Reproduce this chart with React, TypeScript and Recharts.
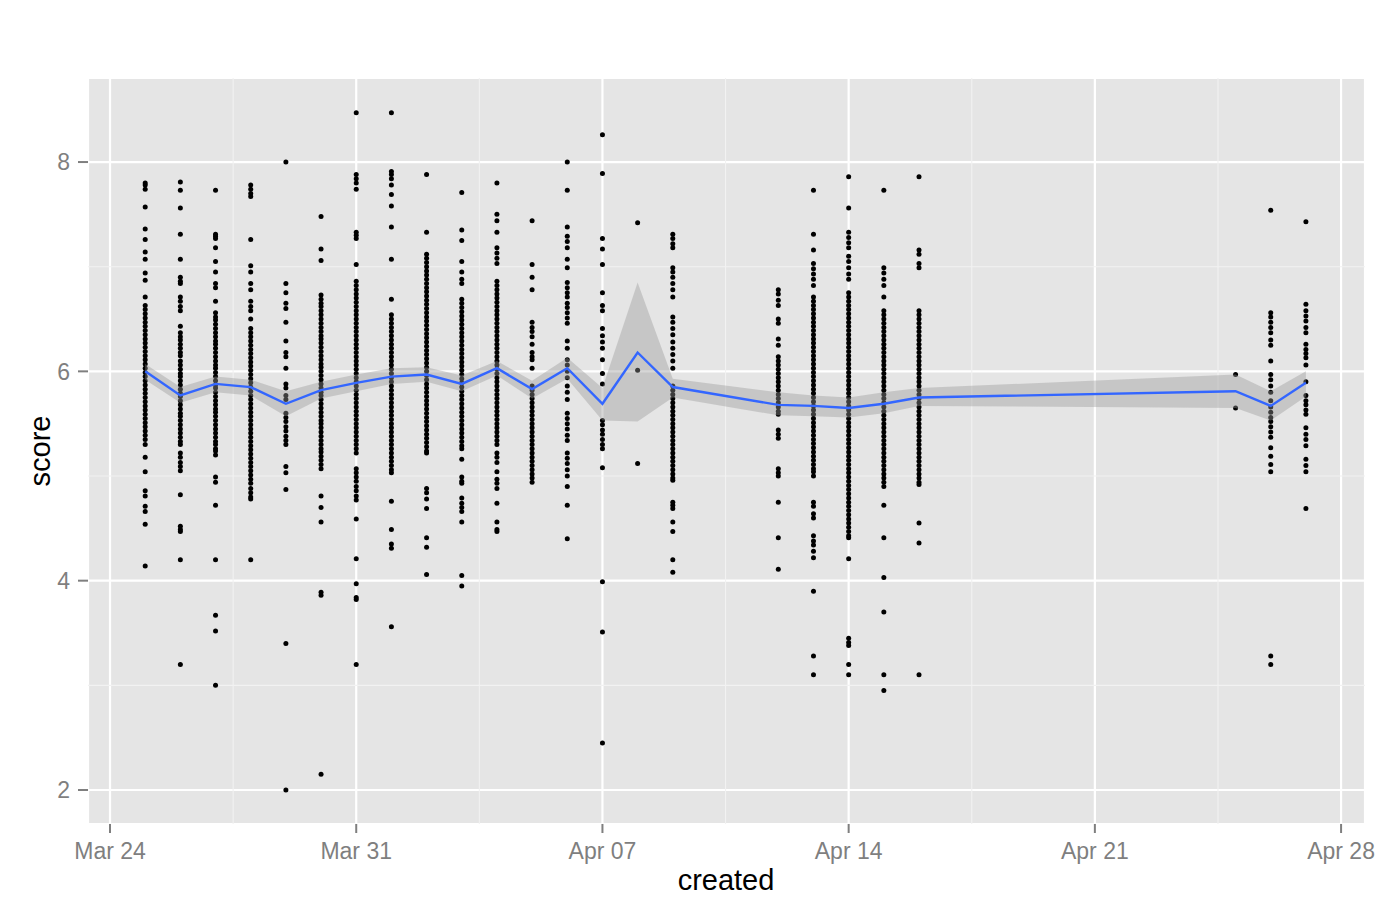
import React from "react";
import {
  ComposedChart,
  Scatter,
  Area,
  Line,
  XAxis,
  YAxis,
  CartesianGrid,
  ReferenceLine,
  Label,
} from "recharts";

// days counted from Mar 24
const days = [1, 2, 3, 4, 5, 6, 7, 8, 9, 10, 11, 12, 13, 14, 15, 16, 19, 20, 21, 22, 23, 32, 33, 34];

const scores: number[][] = [
  [7.8, 7.78, 7.74, 7.57, 7.36, 7.26, 7.14, 7.07, 6.94, 6.87, 6.71, 6.63, 6.59, 6.55, 6.51, 6.47, 6.43, 6.39, 6.35, 6.31, 6.27, 6.23, 6.19, 6.15, 6.11, 6.07, 6.03, 5.99, 5.95, 5.91, 5.87, 5.83, 5.79, 5.75, 5.71, 5.67, 5.63, 5.59, 5.55, 5.51, 5.47, 5.43, 5.39, 5.35, 5.3, 5.18, 5.04, 4.86, 4.81, 4.71, 4.66, 4.54, 4.14],
  [7.81, 7.73, 7.56, 7.31, 7.07, 6.9, 6.86, 6.84, 6.71, 6.67, 6.62, 6.58, 6.43, 6.37, 6.33, 6.3, 6.26, 6.22, 6.18, 6.15, 6.1, 6.06, 6.02, 5.98, 5.95, 5.91, 5.87, 5.83, 5.79, 5.76, 5.72, 5.68, 5.64, 5.6, 5.57, 5.53, 5.49, 5.45, 5.41, 5.37, 5.33, 5.3, 5.22, 5.18, 5.13, 5.09, 5.05, 4.82, 4.52, 4.49, 4.47, 4.2, 3.2],
  [7.73, 7.31, 7.29, 7.27, 7.18, 7.05, 6.95, 6.84, 6.8, 6.67, 6.56, 6.52, 6.49, 6.45, 6.41, 6.37, 6.33, 6.29, 6.26, 6.22, 6.18, 6.14, 6.1, 6.06, 6.03, 5.99, 5.95, 5.91, 5.87, 5.84, 5.8, 5.76, 5.72, 5.68, 5.64, 5.61, 5.57, 5.53, 5.49, 5.45, 5.41, 5.37, 5.33, 5.3, 5.26, 5.24, 5.2, 4.99, 4.94, 4.72, 4.2, 3.67, 3.52, 3.0],
  [7.78, 7.74, 7.7, 7.67, 7.26, 7.01, 6.95, 6.84, 6.78, 6.67, 6.62, 6.58, 6.5, 6.41, 6.37, 6.33, 6.29, 6.25, 6.21, 6.17, 6.13, 6.09, 6.05, 6.01, 5.97, 5.93, 5.89, 5.85, 5.81, 5.77, 5.73, 5.69, 5.65, 5.61, 5.57, 5.53, 5.49, 5.45, 5.41, 5.37, 5.33, 5.29, 5.25, 5.21, 5.17, 5.13, 5.09, 5.05, 5.01, 4.97, 4.93, 4.88, 4.84, 4.8, 4.78, 4.2],
  [8.0, 6.84, 6.75, 6.65, 6.6, 6.47, 6.29, 6.18, 6.14, 6.03, 5.88, 5.84, 5.77, 5.73, 5.6, 5.56, 5.52, 5.47, 5.43, 5.38, 5.34, 5.3, 5.09, 5.03, 4.87, 3.4, 2.0],
  [7.48, 7.17, 7.06, 6.73, 6.69, 6.65, 6.62, 6.58, 6.54, 6.5, 6.46, 6.42, 6.38, 6.34, 6.31, 6.27, 6.23, 6.19, 6.15, 6.11, 6.07, 6.04, 6.0, 5.96, 5.92, 5.88, 5.84, 5.8, 5.77, 5.73, 5.69, 5.65, 5.61, 5.57, 5.53, 5.5, 5.46, 5.42, 5.38, 5.34, 5.3, 5.26, 5.23, 5.19, 5.15, 5.11, 5.07, 4.81, 4.7, 4.56, 3.89, 3.86, 2.15],
  [8.47, 7.88, 7.84, 7.8, 7.74, 7.33, 7.3, 7.27, 7.02, 6.86, 6.82, 6.78, 6.74, 6.7, 6.66, 6.62, 6.58, 6.54, 6.5, 6.46, 6.42, 6.38, 6.34, 6.3, 6.26, 6.22, 6.18, 6.14, 6.1, 6.06, 6.02, 5.98, 5.94, 5.9, 5.86, 5.82, 5.78, 5.74, 5.7, 5.66, 5.62, 5.58, 5.54, 5.5, 5.46, 5.42, 5.38, 5.34, 5.3, 5.26, 5.22, 5.07, 5.03, 4.99, 4.95, 4.9, 4.86, 4.81, 4.77, 4.59, 4.21, 3.97, 3.84, 3.82, 3.2],
  [8.47, 7.91, 7.88, 7.84, 7.78, 7.69, 7.58, 7.38, 7.07, 6.69, 6.54, 6.5, 6.46, 6.42, 6.38, 6.34, 6.3, 6.26, 6.22, 6.18, 6.14, 6.1, 6.06, 6.02, 5.98, 5.94, 5.9, 5.86, 5.82, 5.78, 5.74, 5.7, 5.66, 5.62, 5.58, 5.54, 5.5, 5.46, 5.42, 5.38, 5.34, 5.3, 5.26, 5.22, 5.18, 5.14, 5.1, 5.06, 5.03, 4.76, 4.49, 4.35, 4.31, 3.56],
  [7.88, 7.33, 7.12, 7.08, 7.04, 7.0, 6.96, 6.92, 6.88, 6.84, 6.8, 6.76, 6.72, 6.68, 6.64, 6.6, 6.56, 6.52, 6.48, 6.44, 6.4, 6.36, 6.32, 6.28, 6.24, 6.2, 6.16, 6.12, 6.08, 6.04, 6.0, 5.96, 5.92, 5.88, 5.84, 5.8, 5.76, 5.72, 5.68, 5.64, 5.6, 5.56, 5.52, 5.48, 5.44, 5.4, 5.36, 5.32, 5.28, 5.24, 5.22, 4.88, 4.84, 4.78, 4.69, 4.41, 4.32, 4.06],
  [7.71, 7.35, 7.25, 7.05, 6.95, 6.88, 6.84, 6.69, 6.65, 6.61, 6.57, 6.53, 6.49, 6.45, 6.41, 6.37, 6.33, 6.29, 6.25, 6.21, 6.17, 6.13, 6.09, 6.05, 6.01, 5.97, 5.93, 5.89, 5.85, 5.81, 5.77, 5.73, 5.69, 5.65, 5.61, 5.57, 5.53, 5.49, 5.45, 5.41, 5.37, 5.33, 5.29, 5.26, 5.16, 4.99, 4.95, 4.93, 4.79, 4.74, 4.7, 4.66, 4.56, 4.05, 3.95],
  [7.8, 7.5, 7.44, 7.33, 7.18, 7.13, 7.08, 7.03, 6.86, 6.82, 6.78, 6.74, 6.7, 6.66, 6.62, 6.58, 6.54, 6.5, 6.46, 6.42, 6.38, 6.34, 6.3, 6.26, 6.22, 6.18, 6.14, 6.1, 6.06, 6.02, 5.98, 5.94, 5.9, 5.86, 5.82, 5.78, 5.74, 5.7, 5.66, 5.62, 5.58, 5.54, 5.5, 5.46, 5.42, 5.38, 5.34, 5.3, 5.22, 5.18, 5.13, 5.04, 4.97, 4.93, 4.88, 4.74, 4.56, 4.49, 4.47],
  [7.44, 7.02, 6.9, 6.78, 6.47, 6.42, 6.38, 6.33, 6.26, 6.18, 6.14, 6.11, 6.03, 5.86, 5.82, 5.78, 5.74, 5.7, 5.66, 5.62, 5.58, 5.54, 5.5, 5.46, 5.42, 5.38, 5.34, 5.3, 5.26, 5.22, 5.18, 5.14, 5.1, 5.06, 5.02, 4.98, 4.94],
  [8.0, 7.73, 7.38, 7.29, 7.24, 7.18, 7.07, 6.99, 6.85, 6.8, 6.75, 6.71, 6.65, 6.61, 6.56, 6.51, 6.46, 6.29, 6.22, 6.11, 6.06, 6.0, 5.94, 5.86, 5.8, 5.73, 5.6, 5.55, 5.5, 5.45, 5.39, 5.34, 5.22, 5.17, 5.12, 5.06, 5.0, 4.9, 4.72, 4.4],
  [8.26, 7.89, 7.27, 7.17, 7.02, 6.75, 6.63, 6.58, 6.41, 6.34, 6.28, 6.22, 6.11, 5.98, 5.88, 5.53, 5.49, 5.44, 5.4, 5.35, 5.3, 5.26, 5.08, 3.99, 3.51, 2.45],
  [7.42, 6.01, 5.12],
  [7.31, 7.27, 7.22, 7.18, 6.99, 6.95, 6.9, 6.84, 6.78, 6.71, 6.52, 6.47, 6.41, 6.35, 6.28, 6.22, 6.16, 6.1, 6.03, 5.86, 5.82, 5.78, 5.74, 5.7, 5.66, 5.62, 5.58, 5.54, 5.5, 5.46, 5.42, 5.38, 5.34, 5.3, 5.26, 5.22, 5.18, 5.14, 5.1, 5.06, 5.02, 4.98, 4.96, 4.75, 4.72, 4.69, 4.56, 4.47, 4.2, 4.08],
  [6.78, 6.74, 6.68, 6.63, 6.5, 6.46, 6.31, 6.25, 6.14, 6.1, 6.06, 6.02, 5.98, 5.94, 5.9, 5.86, 5.82, 5.78, 5.74, 5.7, 5.66, 5.62, 5.59, 5.44, 5.4, 5.36, 5.07, 5.03, 5.0, 4.75, 4.41, 4.11],
  [7.73, 7.31, 7.16, 7.03, 6.98, 6.93, 6.88, 6.82, 6.71, 6.67, 6.63, 6.59, 6.55, 6.51, 6.47, 6.43, 6.39, 6.35, 6.31, 6.27, 6.23, 6.19, 6.15, 6.11, 6.07, 6.03, 5.99, 5.95, 5.91, 5.87, 5.83, 5.79, 5.75, 5.71, 5.67, 5.63, 5.59, 5.55, 5.51, 5.47, 5.43, 5.39, 5.35, 5.31, 5.27, 5.23, 5.19, 5.15, 5.11, 5.07, 5.04, 5.0, 4.75, 4.71, 4.64, 4.6, 4.43, 4.38, 4.34, 4.28, 4.22, 3.9, 3.28, 3.1],
  [7.86, 7.56, 7.33, 7.28, 7.23, 7.18, 7.1, 7.05, 6.99, 6.93, 6.88, 6.75, 6.71, 6.67, 6.63, 6.59, 6.55, 6.51, 6.47, 6.43, 6.39, 6.35, 6.31, 6.27, 6.23, 6.19, 6.15, 6.11, 6.07, 6.03, 5.99, 5.95, 5.91, 5.87, 5.83, 5.79, 5.75, 5.71, 5.67, 5.63, 5.59, 5.55, 5.51, 5.47, 5.43, 5.39, 5.35, 5.31, 5.27, 5.23, 5.19, 5.15, 5.11, 5.07, 5.03, 4.99, 4.95, 4.91, 4.87, 4.83, 4.79, 4.75, 4.71, 4.67, 4.63, 4.59, 4.55, 4.51, 4.47, 4.43, 4.41, 4.21, 3.45, 3.41, 3.38, 3.2, 3.1],
  [7.73, 6.99, 6.94, 6.88, 6.82, 6.71, 6.58, 6.54, 6.5, 6.46, 6.42, 6.38, 6.34, 6.3, 6.26, 6.22, 6.18, 6.14, 6.1, 6.06, 6.02, 5.98, 5.94, 5.9, 5.86, 5.82, 5.78, 5.74, 5.7, 5.66, 5.62, 5.58, 5.54, 5.5, 5.46, 5.42, 5.38, 5.34, 5.3, 5.26, 5.22, 5.18, 5.14, 5.1, 5.06, 5.02, 4.98, 4.94, 4.9, 4.72, 4.41, 4.03, 3.7, 3.1, 2.95],
  [7.86, 7.16, 7.12, 7.03, 6.99, 6.58, 6.54, 6.5, 6.46, 6.42, 6.38, 6.34, 6.3, 6.26, 6.22, 6.18, 6.14, 6.1, 6.06, 6.02, 5.98, 5.94, 5.9, 5.86, 5.82, 5.78, 5.74, 5.7, 5.66, 5.62, 5.58, 5.54, 5.5, 5.46, 5.42, 5.38, 5.34, 5.3, 5.26, 5.22, 5.18, 5.14, 5.1, 5.06, 5.02, 4.98, 4.94, 4.92, 4.55, 4.36, 3.1],
  [5.97, 5.65],
  [7.54, 6.56, 6.52, 6.47, 6.42, 6.37, 6.3, 6.25, 6.1, 5.97, 5.92, 5.86, 5.8, 5.72, 5.66, 5.61, 5.56, 5.52, 5.47, 5.42, 5.37, 5.27, 5.19, 5.11, 5.04, 3.28, 3.2],
  [7.43, 6.64, 6.58, 6.53, 6.48, 6.42, 6.37, 6.26, 6.21, 6.17, 6.13, 6.06, 5.9, 5.77, 5.72, 5.68, 5.63, 5.59, 5.46, 5.4, 5.35, 5.29, 5.16, 5.1, 5.04, 4.69],
];

const means = [6.0, 5.77, 5.88, 5.85, 5.69, 5.82, 5.89, 5.95, 5.97, 5.88, 6.03, 5.83, 6.03, 5.69, 6.18, 5.85, 5.68, 5.67, 5.65, 5.69, 5.75, 5.81, 5.67, 5.89];
const bandLow = [5.92, 5.7, 5.8, 5.77, 5.57, 5.74, 5.81, 5.88, 5.9, 5.81, 5.96, 5.74, 5.93, 5.53, 5.52, 5.75, 5.58, 5.57, 5.56, 5.6, 5.67, 5.65, 5.53, 5.76];
const bandHigh = [6.07, 5.85, 5.95, 5.92, 5.81, 5.9, 5.97, 6.03, 6.04, 5.96, 6.1, 5.91, 6.13, 5.84, 6.85, 5.93, 5.8, 5.77, 5.75, 5.8, 5.84, 5.97, 5.81, 6.0];

const xTicks = [0, 7, 14, 21, 28, 35];
const xTickLabels = ["Mar 24", "Mar 31", "Apr 07", "Apr 14", "Apr 21", "Apr 28"];
const xMinor = [3.5, 10.5, 17.5, 24.5, 31.5];
const yTicks = [2, 4, 6, 8];
const yMinor = [3, 5, 7];

const pointRows = days.flatMap((d, i) => scores[i].map((s) => ({ day: d, score: s })));
const summaryRows = days.map((d, i) => ({ day: d, mean: means[i], band: [bandLow[i], bandHigh[i]] }));

const FONT = "'Liberation Sans', Arial, Helvetica, sans-serif";
const tickStyle = { fill: "#7F7F7F", fontSize: 23, fontFamily: FONT };

const Dot = (p: any) => <circle cx={p.cx} cy={p.cy} r={2.5} fill="#000000" />;

export default function App() {
  return (
    <div style={{ position: "absolute", left: 0, top: 0, width: 1400, height: 916, background: "#ffffff" }}>
      <ComposedChart width={1400} height={916} data={summaryRows} margin={{ top: 78, right: 35, bottom: 32, left: 0 }}>
        <CartesianGrid fill="#E5E5E5" stroke="#FFFFFF" strokeWidth={2.2} />
        {xMinor.map((x) => (
          <ReferenceLine key={"vx" + x} x={x} stroke="#F2F2F2" strokeWidth={1.1} zIndex={-50} />
        ))}
        {yMinor.map((y) => (
          <ReferenceLine key={"hy" + y} y={y} stroke="#F2F2F2" strokeWidth={1.1} zIndex={-50} />
        ))}
        <XAxis
          type="number"
          dataKey="day"
          domain={[-0.626, 35.68]}
          ticks={xTicks}
          tickFormatter={(v: number) => xTickLabels[xTicks.indexOf(v)] ?? ""}
          allowDataOverflow
          height={60}
          axisLine={false}
          tickLine={{ stroke: "#7F7F7F", strokeWidth: 2 }}
          tickSize={9}
          tickMargin={10}
          tick={tickStyle}
        >
          <Label
            content={() => (
              <text x={726} y={890} textAnchor="middle" fontSize={29} fontFamily={FONT} fill="#000000">
                created
              </text>
            )}
          />
        </XAxis>
        <YAxis
          type="number"
          domain={[1.675, 8.803]}
          ticks={yTicks}
          allowDataOverflow
          width={88}
          axisLine={false}
          tickLine={{ stroke: "#7F7F7F", strokeWidth: 2 }}
          tickSize={10}
          tickMargin={8}
          tick={tickStyle}
        >
          <Label
            content={() => (
              <text
                x={50}
                y={451}
                transform="rotate(-90, 50, 451)"
                textAnchor="middle"
                fontSize={29}
                fontFamily={FONT}
                fill="#000000"
              >
                score
              </text>
            )}
          />
        </YAxis>
        <Scatter data={pointRows} dataKey="score" shape={Dot} isAnimationActive={false} zIndex={50} />
        <Area
          type="linear"
          dataKey="band"
          stroke="none"
          fill="#999999"
          fillOpacity={0.4}
          isAnimationActive={false}
          zIndex={100}
        />
        <Line
          type="linear"
          dataKey="mean"
          stroke="#3366FF"
          strokeWidth={2.4}
          dot={false}
          activeDot={false}
          isAnimationActive={false}
          zIndex={400}
        />
      </ComposedChart>
    </div>
  );
}
